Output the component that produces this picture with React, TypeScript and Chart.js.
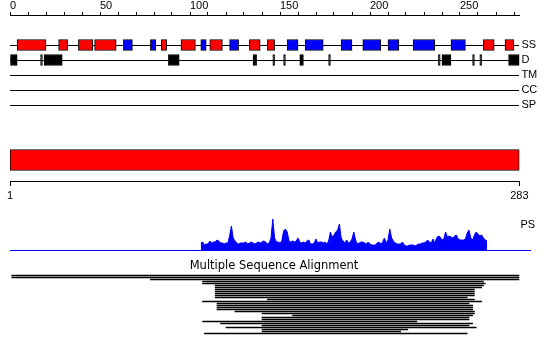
import React, { useEffect, useRef } from 'react';
import { Chart, registerables } from 'chart.js';

Chart.register(...registerables);

// ---------- data ----------
const SEQ_LENGTH = 283;
const RULER_TICKS = [0, 10, 20, 30, 40, 50, 60, 70, 80, 90, 100, 110, 120, 130, 140, 150, 160, 170, 180, 190, 200, 210, 220, 230, 240, 250, 260, 270, 280];
const RULER_LABELS = [0, 50, 100, 150, 200, 250];
const TRACK_LABELS = ['SS', 'D', 'TM', 'CC', 'SP'];

const HELIX: [number, number][] = [
  [4, 20], [27, 32], [38, 46], [47, 59], [84, 87], [95, 103], [111, 118], [133, 139], [143, 147], [263, 269], [275, 280],
];
const STRAND: [number, number][] = [
  [63, 68], [78, 81], [106, 109], [122, 127], [154, 160], [164, 174], [184, 190], [196, 206], [210, 216], [224, 236], [245, 253],
];
const DISORDER: [number, number][] = [
  [0, 4], [17, 18], [19, 29], [88, 94], [135, 137], [146, 147], [152, 153], [161, 163], [177, 178], [238, 239], [240, 245], [257, 258], [261, 262], [277, 283],
];

const DOMAIN: [number, number] = [1, 283];
const SCALE_TICKS = [1, 283];

const PS_START = 106;
const PS_SCORES = [
  7, 8, 5, 6, 6, 9, 7, 8, 8, 10,
  9, 7, 7, 6, 7, 7, 14, 24, 12, 9,
  7, 6, 7, 7, 7, 8, 6, 7, 8, 7,
  6, 7, 8, 7, 8, 9, 8, 6, 7, 12,
  31, 12, 8, 8, 7, 9, 19, 21, 18, 9,
  8, 9, 8, 9, 12, 8, 7, 8, 7, 9,
  10, 6, 6, 7, 11, 7, 8, 8, 7, 8,
  6, 9, 18, 13, 15, 18, 20, 26, 12, 9,
  7, 10, 7, 8, 11, 18, 10, 6, 7, 8,
  8, 7, 6, 8, 6, 5, 5, 5, 7, 8,
  6, 8, 12, 7, 10, 21, 12, 9, 7, 6,
  6, 6, 8, 5, 4, 4, 5, 5, 5, 4,
  5, 6, 6, 7, 7, 8, 10, 8, 7, 11,
  7, 12, 14, 13, 10, 11, 18, 13, 14, 13,
  12, 14, 15, 11, 10, 10, 10, 11, 17, 20,
  12, 10, 15, 18, 16, 14, 15, 12, 10, 9,
];

const MSA_STARTS = [1, 1, 78, 107, 107, 114, 114, 114, 114, 114, 114, 114, 143, 107, 115, 115, 115, 115, 125, 140, 157, 140, 140, 107, 117, 140, 120, 140, 140, 108];
const MSA_ENDS = [283, 283, 283, 263, 264, 263, 262, 258, 258, 258, 258, 254, 258, 262, 255, 257, 257, 257, 258, 258, 257, 255, 255, 226, 257, 255, 259, 221, 217, 254];

// ---------- layout / style constants ----------
const W = 550;
const LEFT_EDGE = 10;
const RIGHT_EDGE = 519.4;
const PS_AXIS_MAX = 289;
const PS_RIGHT = LEFT_EDGE + PS_AXIS_MAX * ((RIGHT_EDGE - LEFT_EDGE) / SEQ_LENGTH);
const PS_LABEL_AT = 25;
const BLACK = '#000000';
const RED = '#ff0000';
const BLUE = '#0000ff';
const FONT = 'Liberation Sans';

const base = {
  responsive: false,
  animation: false as const,
  devicePixelRatio: 1,
  events: [] as any[],
};
const noPlugins = { legend: { display: false }, tooltip: { enabled: false }, title: { display: false } };

const spans = (arr: [number, number][], row: number) => arr.map(([s, e]) => ({ x: [s, e], y: row }));

function trackConfig(): any {
  const boxStyle = { borderColor: BLACK, borderWidth: 1, borderSkipped: false, barThickness: 11, grouped: false };
  return {
    type: 'bar',
    data: {
      datasets: [
        { label: 'Helix', data: spans(HELIX, 0), backgroundColor: RED, ...boxStyle },
        { label: 'Strand', data: spans(STRAND, 0), backgroundColor: BLUE, ...boxStyle },
        { label: 'Disorder', data: spans(DISORDER, 1), backgroundColor: BLACK, ...boxStyle },
      ],
    },
    options: {
      ...base,
      indexAxis: 'y',
      layout: { padding: { left: LEFT_EDGE, right: 0, top: 0, bottom: 15 } },
      plugins: noPlugins,
      scales: {
        x: {
          type: 'linear', position: 'top', min: 0, max: SEQ_LENGTH,
          afterBuildTicks: (s: any) => { s.ticks = RULER_TICKS.map((v) => ({ value: v })); },
          afterFit: (s: any) => { s.height = 15; },
          grid: { display: true, drawOnChartArea: false, drawTicks: true, tickLength: 3, color: BLACK, lineWidth: 1 },
          border: { display: true, color: BLACK, width: 1 },
          ticks: {
            align: 'start', padding: -1, autoSkip: false, maxRotation: 0, color: BLACK,
            font: { family: FONT, size: 11 },
            callback: (v: any) => (RULER_LABELS.includes(Number(v)) ? String(v) : ''),
          },
        },
        y: {
          type: 'linear', position: 'right', reverse: true, min: -2, max: 5, offset: false,
          afterBuildTicks: (s: any) => { s.ticks = TRACK_LABELS.map((_, i) => ({ value: i })); },
          afterFit: (s: any) => { s.width = W - RIGHT_EDGE; },
          grid: { display: true, drawOnChartArea: true, drawTicks: false, color: BLACK, lineWidth: 1, offset: false },
          border: { display: false },
          ticks: {
            padding: 2, color: BLACK, font: { family: FONT, size: 11 },
            callback: (v: any) => TRACK_LABELS[Number(v)] ?? '',
          },
        },
      },
    },
  };
}

function domainConfig(): any {
  return {
    type: 'bar',
    data: {
      datasets: [
        { label: 'Domain', data: [{ x: DOMAIN, y: 0 }], backgroundColor: RED, borderColor: BLACK, borderWidth: 1, borderSkipped: false, barThickness: 21, grouped: false },
      ],
    },
    options: {
      ...base,
      indexAxis: 'y',
      layout: { padding: { left: LEFT_EDGE, right: W - RIGHT_EDGE, top: 0, bottom: 0 } },
      plugins: noPlugins,
      scales: {
        x: {
          type: 'linear', position: 'bottom', min: 1, max: SEQ_LENGTH,
          afterBuildTicks: (s: any) => { s.ticks = SCALE_TICKS.map((v) => ({ value: v })); },
          afterFit: (s: any) => { s.height = 20; },
          grid: { display: true, drawOnChartArea: false, drawTicks: true, tickLength: 5, color: BLACK, lineWidth: 1 },
          border: { display: true, color: BLACK, width: 1 },
          ticks: {
            padding: 3, autoSkip: false, maxRotation: 0, color: BLACK, font: { family: FONT, size: 11 },
            callback: (v: any) => String(v),
          },
        },
        y: { type: 'linear', display: false, min: -1, max: 1, offset: false },
      },
    },
  };
}

function psConfig(): any {
  return {
    type: 'line',
    data: {
      datasets: [
        {
          label: 'PS',
          data: PS_SCORES.map((v, i) => ({ x: PS_START + i, y: v })),
          fill: 'origin', backgroundColor: BLUE, borderColor: BLUE, borderWidth: 1, pointRadius: 0, tension: 0,
        },
      ],
    },
    options: {
      ...base,
      layout: { padding: { left: LEFT_EDGE, right: 0, top: 12, bottom: 12 } },
      plugins: noPlugins,
      scales: {
        x: {
          type: 'linear', min: 0, max: PS_AXIS_MAX,
          afterFit: (s: any) => { s.height = 2; },
          grid: { display: false },
          border: { display: true, color: BLUE, width: 1 },
          ticks: { display: false },
        },
        y: {
          type: 'linear', position: 'right', min: 0, max: 38,
          afterBuildTicks: (s: any) => { s.ticks = [{ value: PS_LABEL_AT }]; },
          afterFit: (s: any) => { s.width = W - PS_RIGHT; },
          grid: { display: false },
          border: { display: false },
          ticks: { mirror: true, padding: 5, color: BLACK, font: { family: FONT, size: 11 }, callback: () => 'PS' },
        },
      },
    },
  };
}

function msaConfig(): any {
  return {
    type: 'bar',
    data: {
      datasets: [
        {
          label: 'MSA',
          data: MSA_STARTS.map((s, i) => ({ x: [s, MSA_ENDS[i]], y: i })),
          backgroundColor: BLACK, borderWidth: 0, barThickness: 1, grouped: false,
        },
      ],
    },
    options: {
      ...base,
      indexAxis: 'y',
      layout: { padding: { left: LEFT_EDGE, right: 12, top: 0, bottom: 0 } },
      plugins: {
        legend: { display: false },
        tooltip: { enabled: false },
        title: {
          display: true, text: 'Multiple Sequence Alignment', color: BLACK,
          font: { family: 'DejaVu Sans', size: 11.5, weight: 'normal', lineHeight: 13 / 11.5 },
          padding: { top: 4.5, bottom: 0 },
        },
      },
      scales: {
        x: { type: 'linear', display: false, min: 0, max: SEQ_LENGTH },
        y: {
          type: 'linear', position: 'right', reverse: true, min: -1.5, max: 31.25, offset: false,
          afterFit: (s: any) => { s.width = W - 12 - RIGHT_EDGE; },
          ticks: { display: false },
          grid: { display: false },
          border: { display: false },
        },
      },
    },
  };
}

const canvasStyle = (top: number): React.CSSProperties => ({ position: 'absolute', left: 0, top, display: 'block' });

export default function App() {
  const trackRef = useRef<HTMLCanvasElement>(null);
  const domainRef = useRef<HTMLCanvasElement>(null);
  const psRef = useRef<HTMLCanvasElement>(null);
  const msaRef = useRef<HTMLCanvasElement>(null);

  useEffect(() => {
    const charts: Chart[] = [];
    if (trackRef.current) charts.push(new Chart(trackRef.current, trackConfig()));
    if (domainRef.current) charts.push(new Chart(domainRef.current, domainConfig()));
    if (psRef.current) charts.push(new Chart(psRef.current, psConfig()));
    if (msaRef.current) charts.push(new Chart(msaRef.current, msaConfig()));
    return () => charts.forEach((c) => c.destroy());
  }, []);

  return (
    <div style={{ position: 'absolute', left: 0, top: 0, width: W, height: 355, background: '#ffffff', overflow: 'hidden' }}>
      <canvas ref={trackRef} width={W} height={135} style={canvasStyle(0)} />
      <canvas ref={domainRef} width={W} height={62} style={canvasStyle(139)} />
      <canvas ref={psRef} width={W} height={64} style={canvasStyle(200)} />
      <canvas ref={msaRef} width={W} height={83} style={canvasStyle(255)} />
    </div>
  );
}
